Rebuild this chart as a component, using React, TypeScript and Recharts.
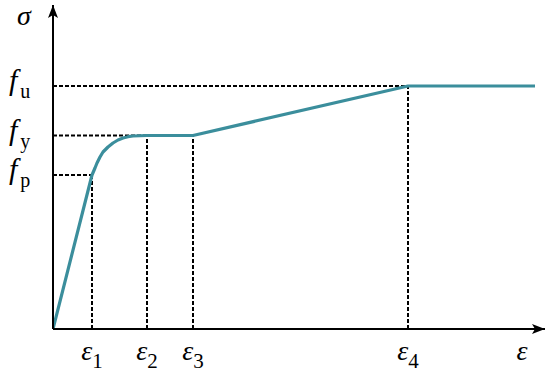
import React from "react";
import {
  LineChart,
  Line,
  XAxis,
  YAxis,
  ReferenceLine,
  ReferenceDot,
} from "recharts";

// Strain (ε) and stress (σ) values (arbitrary units)
const strainPts = [0, 39, 42, 44, 47, 50, 55, 60, 65, 70, 75, 80, 94, 140, 355, 482];
const stressPts = [0, 154, 161, 166, 172, 177, 182, 186, 189, 191, 192.3, 193, 193.5, 193.5, 243, 243];

// Characteristic points
const epsTicks = [39, 94, 140, 355, 469];
const epsBase = ["ε", "ε", "ε", "ε", "ε"];
const epsSub = ["1", "2", "3", "4", ""];

const fTicks = [154, 193.5, 243];
const fSub = ["p", "y", "u"];

const eps1 = 39, eps2 = 94, eps3 = 140, eps4 = 355;
const fp = 154, fy = 193.5, fu = 243;
const xMax = 492;
const yMax = 324;

const data = strainPts.map((x, i) => ({ x, y: stressPts[i] }));

const FONT = "Liberation Serif";

const XTick = (props: any) => {
  const { x, payload } = props;
  const i = epsTicks.indexOf(payload.value);
  if (i < 0) return null;
  return (
    <text x={x} y={360} textAnchor="middle" style={{ fontFamily: FONT }} fill="#000">
      <tspan fontSize={28} fontStyle="italic">{epsBase[i]}</tspan>
      {epsSub[i] ? (
        <tspan fontSize={21} dy={8}>{epsSub[i]}</tspan>
      ) : null}
    </text>
  );
};

const YTick = (props: any) => {
  const { y, payload } = props;
  const i = fTicks.indexOf(payload.value);
  if (i < 0) return null;
  return (
    <text x={9} y={y + 4} textAnchor="start" style={{ fontFamily: FONT }} fill="#000">
      <tspan fontSize={30} fontStyle="italic">f</tspan>
      <tspan fontSize={20} dx={3} dy={8}>{fSub[i]}</tspan>
    </text>
  );
};

const ArrowRight = (props: any) => {
  const { cx, cy } = props;
  return (
    <path
      d={`M${cx},${cy} L${cx - 13},${cy - 5} L${cx - 10},${cy} L${cx - 13},${cy + 5} Z`}
      fill="#000"
    />
  );
};

const ArrowUp = (props: any) => {
  const { cx, cy } = props;
  return (
    <path
      d={`M${cx},${cy} L${cx - 5},${cy + 13} L${cx},${cy + 10} L${cx + 5},${cy + 13} Z`}
      fill="#000"
    />
  );
};

const dashProps = {
  stroke: "#000",
  strokeWidth: 2,
  strokeDasharray: "4 2",
  ifOverflow: "visible" as const,
};

export default function App() {
  return (
    <div style={{ position: "absolute", left: 0, top: 0, width: 550, height: 377, background: "#fff" }}>
      <LineChart
        width={550}
        height={377}
        data={data}
        margin={{ top: 5, right: 5, left: 13, bottom: 8 }}
      >
        <XAxis
          dataKey="x"
          type="number"
          domain={[0, xMax]}
          ticks={epsTicks}
          tick={<XTick />}
          tickLine={false}
          axisLine={{ stroke: "#000", strokeWidth: 2 }}
          height={40}
          allowDataOverflow
          interval={0}
        />
        <YAxis
          type="number"
          domain={[0, yMax]}
          ticks={fTicks}
          tick={<YTick />}
          tickLine={false}
          axisLine={{ stroke: "#000", strokeWidth: 2 }}
          width={40}
          allowDataOverflow
          interval={0}
        />
        <ReferenceLine segment={[{ x: 0, y: fp }, { x: eps1, y: fp }]} {...dashProps} />
        <ReferenceLine segment={[{ x: 0, y: fy }, { x: eps2, y: fy }]} {...dashProps} />
        <ReferenceLine segment={[{ x: 0, y: fu }, { x: eps4, y: fu }]} {...dashProps} />
        <ReferenceLine segment={[{ x: eps1, y: 0 }, { x: eps1, y: fp }]} {...dashProps} />
        <ReferenceLine segment={[{ x: eps2, y: 0 }, { x: eps2, y: fy }]} {...dashProps} />
        <ReferenceLine segment={[{ x: eps3, y: 0 }, { x: eps3, y: fy }]} {...dashProps} />
        <ReferenceLine segment={[{ x: eps4, y: 0 }, { x: eps4, y: fu }]} {...dashProps} />
        <Line
          type="linear"
          dataKey="y"
          stroke="#3b8e9c"
          strokeWidth={3.2}
          strokeLinejoin="round"
          dot={false}
          isAnimationActive={false}
        />
        <ReferenceDot x={xMax} y={0} ifOverflow="visible" shape={<ArrowRight />} />
        <ReferenceDot x={0} y={yMax} ifOverflow="visible" shape={<ArrowUp />} />
      </LineChart>
      <svg
        style={{ position: "absolute", left: 0, top: 0, pointerEvents: "none" }}
        width={550}
        height={377}
      >
        <text x={17} y={25} style={{ fontFamily: FONT }} fontSize={28} fontStyle="italic" fill="#000">
          σ
        </text>
      </svg>
    </div>
  );
}
